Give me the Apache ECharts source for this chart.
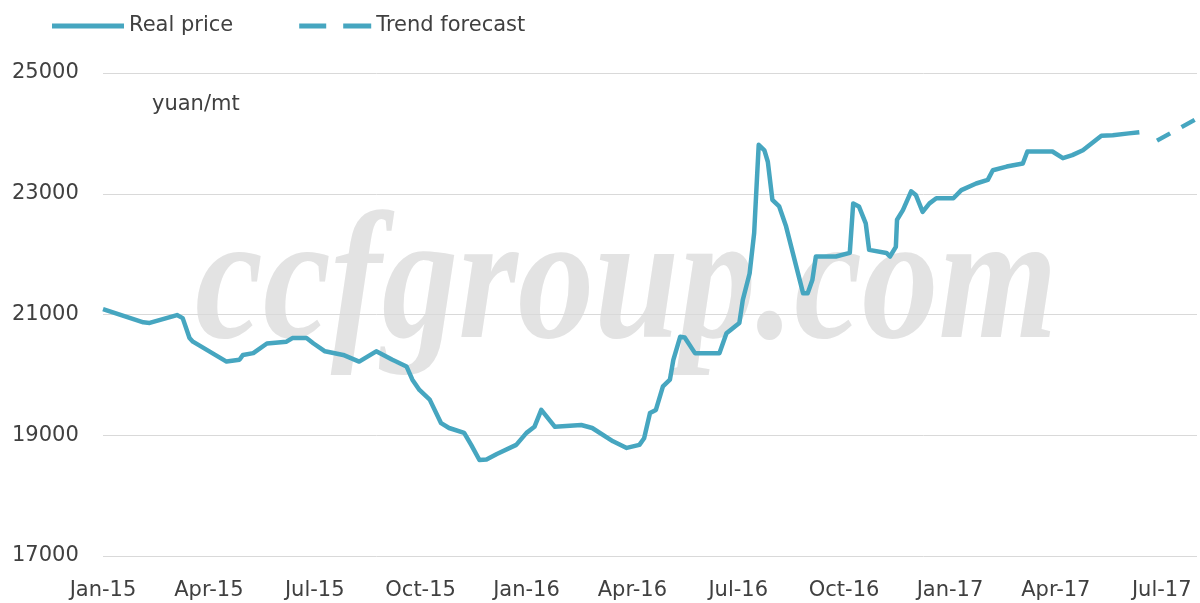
<!DOCTYPE html>
<html lang="en">
<head>
<meta charset="UTF-8">
<title>Real price</title>
<script src="https://cdn.jsdelivr.net/npm/echarts@6/dist/echarts.min.js"></script>
<style>
  html, body { margin: 0; padding: 0; background: #fff; }
  #main { width: 1200px; height: 603px; }
</style>
</head>
<body>
<div id="main"></div>
<script>
// weekly price, yuan/mt
var priceDates = [
  '2015-01-01','2015-02-05','2015-02-10','2015-03-04','2015-03-09','2015-03-15','2015-03-18',
  '2015-04-16','2015-04-27','2015-04-30','2015-05-09','2015-05-21','2015-06-07','2015-06-12',
  '2015-06-24','2015-06-30','2015-07-10','2015-07-26','2015-08-09','2015-08-24','2015-09-07',
  '2015-09-19','2015-09-24','2015-09-30','2015-10-09','2015-10-19','2015-10-26','2015-11-08',
  '2015-11-14','2015-11-21','2015-11-27','2015-12-06','2015-12-23','2016-01-01','2016-01-08',
  '2016-01-14','2016-01-26','2016-02-17','2016-02-26','2016-03-15','2016-03-27','2016-04-07',
  '2016-04-11','2016-04-16','2016-04-21','2016-04-27','2016-05-03','2016-05-06','2016-05-12',
  '2016-05-16','2016-05-25','2016-06-15','2016-06-21','2016-07-02','2016-07-05','2016-07-11',
  '2016-07-15','2016-07-18','2016-07-19','2016-07-24','2016-07-27','2016-07-31','2016-08-06',
  '2016-08-12','2016-08-27','2016-08-31','2016-09-04','2016-09-07','2016-09-24','2016-10-06',
  '2016-10-09','2016-10-14','2016-10-20','2016-10-23','2016-11-07','2016-11-10','2016-11-15',
  '2016-11-16','2016-11-21','2016-11-28','2016-12-02','2016-12-08','2016-12-14','2016-12-20',
  '2017-01-04','2017-01-11','2017-01-24','2017-02-03','2017-02-07','2017-02-18','2017-03-03',
  '2017-03-07','2017-03-29','2017-04-07','2017-04-15','2017-04-24','2017-05-10','2017-05-20',
  '2017-06-03','2017-06-12'
];
var priceValues = [
  21090,20870,20860,20990,20940,20610,20550,
  20220,20250,20330,20360,20520,20550,20610,
  20610,20520,20390,20330,20220,20390,20250,
  20140,19920,19750,19590,19200,19120,19040,
  18840,18590,18600,18690,18840,19040,19140,
  19420,19140,19170,19120,18900,18790,18840,
  18950,19370,19420,19810,19920,20250,20630,
  20620,20360,20360,20690,20860,21240,21680,
  22350,23450,23810,23720,23530,22900,22790,
  22460,21350,21350,21570,21960,21960,22020,
  22840,22790,22510,22070,22020,21960,22120,
  22570,22730,23040,22980,22700,22840,22925,
  22925,23060,23170,23230,23390,23450,23500,
  23700,23700,23590,23640,23720,23960,23970,
  24000,24020
];
var forecastDates = ['2017-06-27', '2017-07-31'];
var forecastValues = [23880, 24235];

var tickLabels = ['Jan-15','Apr-15','Jul-15','Oct-15','Jan-16','Apr-16','Jul-16','Oct-16','Jan-17','Apr-17','Jul-17'];

// months since Jan 2015, fractional
function toMonth(s) {
  var p = s.split('-').map(Number);
  var dim = new Date(p[0], p[1], 0).getDate();
  return (p[0] - 2015) * 12 + (p[1] - 1) + (p[2] - 1) / dim;
}
function pairs(dates, values) {
  var out = [];
  for (var i = 0; i < dates.length; i++) {
    out.push([toMonth(dates[i]), values[i]]);
  }
  return out;
}

var lineColor = '#46a6c0';
var textColor = '#404040';
var font = '"DejaVu Sans", sans-serif';

var chart = echarts.init(document.getElementById('main'));
var option = {
  animation: false,
  backgroundColor: '#fff',
  textStyle: { fontFamily: font },
  title: {
    text: 'yuan/mt',
    left: 152,
    top: 94,
    padding: 0,
    textStyle: { fontSize: 21, fontWeight: 'normal', color: textColor, fontFamily: font }
  },
  // watermark
  graphic: [{
    type: 'text',
    x: 195,
    y: 200,
    scaleX: 0.85,
    z: 0,
    silent: true,
    style: {
      text: 'ccfgroup.com',
      font: 'italic bold 180px "Liberation Serif", serif',
      fill: '#e3e3e3'
    }
  }],
  legend: {
    left: 52,
    top: 14,
    padding: 0,
    itemWidth: 72,
    itemHeight: 5,
    itemGap: 66,
    textStyle: { fontSize: 21, color: textColor, fontFamily: font, lineHeight: 24 },
    data: [
      { name: 'Real price', icon: 'rect' },
      { name: 'Trend forecast', icon: 'path://M0,0H27V5H0Z M44,0H72V5H44Z' }
    ]
  },
  grid: { left: 103, right: 3, top: 73, bottom: 47 },
  xAxis: {
    type: 'value',
    min: 0,
    max: 31,
    interval: 3,
    axisLine: { show: false },
    axisTick: { show: false },
    splitLine: { show: false },
    axisLabel: {
      margin: 24,
      fontSize: 21,
      color: textColor,
      fontFamily: font,
      formatter: function (v) { return tickLabels[v / 3] || ''; }
    }
  },
  yAxis: {
    type: 'value',
    min: 17000,
    max: 25000,
    interval: 2000,
    axisLine: { show: false },
    axisTick: { show: false },
    splitLine: { lineStyle: { color: '#d9d9d9', width: 1 } },
    axisLabel: {
      align: 'left',
      margin: 91,
      fontSize: 21,
      color: textColor,
      fontFamily: font,
      formatter: function (v) { return String(v); }
    }
  },
  series: [
    {
      name: 'Real price',
      type: 'line',
      symbol: 'none',
      z: 3,
      lineStyle: { color: lineColor, width: 4.5, join: 'round' },
      itemStyle: { color: lineColor },
      data: pairs(priceDates, priceValues)
    },
    {
      name: 'Trend forecast',
      type: 'line',
      symbol: 'none',
      z: 3,
      lineStyle: { color: lineColor, width: 4.5, type: [15, 13] },
      itemStyle: { color: lineColor },
      data: pairs(forecastDates, forecastValues)
    }
  ]
};
chart.setOption(option);
</script>
</body>
</html>
